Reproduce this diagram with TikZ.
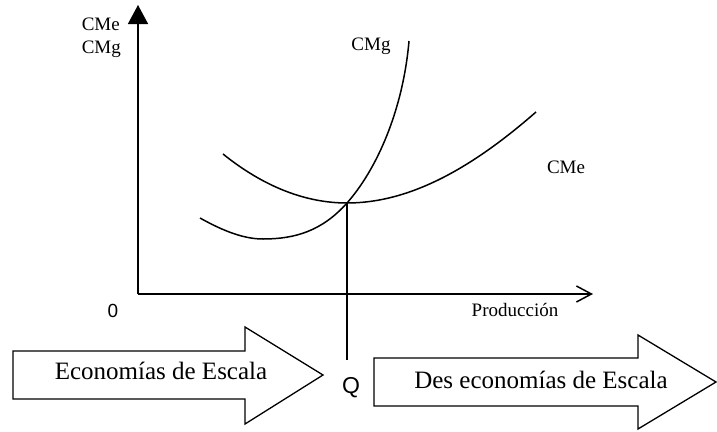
\documentclass[tikz,border=0pt]{standalone}
\usepackage{fontspec}
\setmainfont{Liberation Serif}
\newfontfamily\sansfont{Liberation Sans}
\usetikzlibrary{arrows.meta}

\begin{document}
\begin{tikzpicture}[
                    x=1pt, y=-1pt,
                    line width=1.5pt,
                    lbl/.style={font=\fontsize{19}{23}\selectfont, inner sep=0pt},
                    biglbl/.style={font=\fontsize{25}{30}\selectfont, inner sep=0pt},
                    numlbl/.style={font=\sansfont\fontsize{19}{23}\selectfont, inner sep=0pt},
                    blockarrow/.style={draw, line width=1.3pt},
                ]
                \useasboundingbox (0,0) rectangle (717,431);

                % axes
                \coordinate (O) at (138,294);
                \coordinate (Ytop) at (138,5);
                \coordinate (Xend) at (593,294);
                \draw[-{Triangle[length=19pt,width=20pt]}] (O) -- (Ytop);
                \draw[-{Straight Barb[length=15pt,width=16pt]}] (O) -- (Xend);

                % cost curves
                \coordinate (E) at (347,203);
                \coordinate (CMeA) at (223,154);
                \coordinate (CMeB) at (536,112);
                \coordinate (CMgA) at (200,218);
                \coordinate (CMgMin) at (263,239);
                \coordinate (CMgB) at (409,41);
                \draw (CMeA) .. controls (264,187) and (306,203) .. (E)
                             .. controls (410,203) and (472,168) .. (CMeB);
                \draw (CMgA) .. controls (225,232) and (245,239) .. (CMgMin)
                             .. controls (295,239) and (322,231) .. (E)
                             .. controls (377,169) and (403,110) .. (CMgB);
                \coordinate (Qtop) at (347,360);
                \draw (E) -- (Qtop);

                % labels
                \node[lbl, anchor=base west] (ylabA) at (81,30) {CMe};
                \node[lbl, anchor=base west] (ylabB) at (81,53) {CMg};
                \node[lbl, anchor=base] (cmg) at (371,50) {CMg};
                \node[lbl, anchor=base] (cme) at (566,173) {CMe};
                \node[lbl, anchor=base] (prod) at (515,316) {Producción};
                \node[numlbl, anchor=base] (zero) at (113,317) {0};
                \node[numlbl, font=\sansfont\fontsize{23}{27}\selectfont, anchor=base] (Q) at (351,393) {Q};

                % block arrows
                \draw[blockarrow] (13,351) -- (245,351) -- (245,327) -- (323,375)
                                  -- (245,424) -- (245,399) -- (13,399) -- cycle;
                \node[biglbl, anchor=base] (eco) at (161,379) {Economías de Escala};
                \draw[blockarrow] (374,358) -- (638,358) -- (638,335) -- (716,382)
                                  -- (638,429) -- (638,406) -- (374,406) -- cycle;
                \node[biglbl, anchor=base] (deseco) at (541,388) {Des economías de Escala};
            \end{tikzpicture}
\end{document}
